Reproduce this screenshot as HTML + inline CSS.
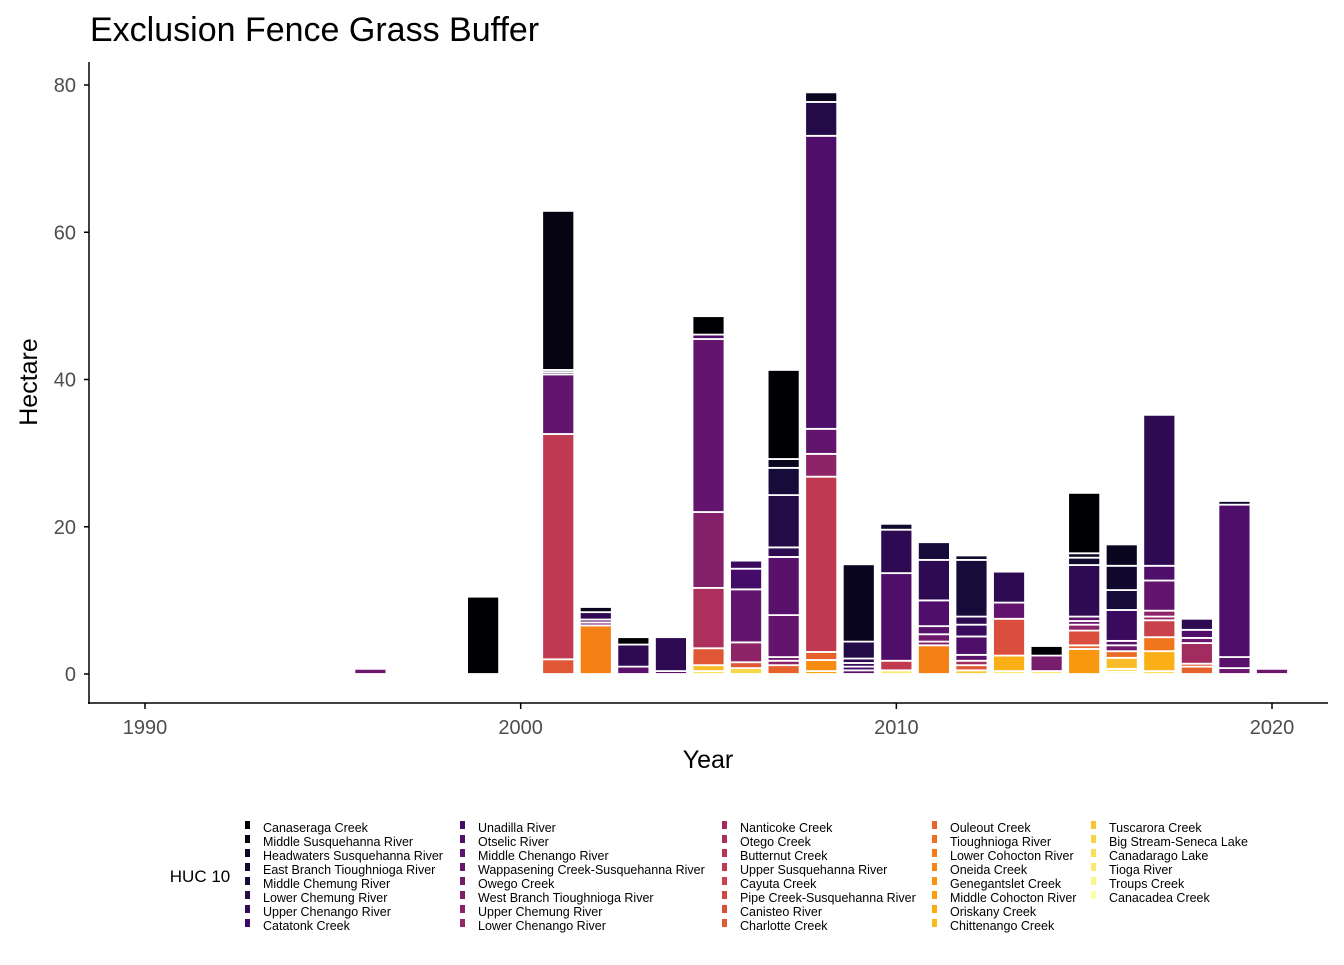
<!DOCTYPE html>
<html><head><meta charset="utf-8"><style>
body{margin:0;background:#fff;font-family:"Liberation Sans",sans-serif}
svg text{font-family:"Liberation Sans",sans-serif}
</style></head><body>
<svg id="chart" width="1344" height="960">
<text x="90" y="41" font-size="34" fill="#000">Exclusion Fence Grass Buffer</text>
<text transform="translate(37,382) rotate(-90)" text-anchor="middle" font-size="25" fill="#000">Hectare</text>
<text x="708" y="768" text-anchor="middle" font-size="25" fill="#000">Year</text>
<line x1="89" y1="62" x2="89" y2="704" stroke="#000" stroke-width="1.5"/>
<line x1="88" y1="703" x2="1328" y2="703" stroke="#000" stroke-width="1.5"/>
<g id="ticks"></g><g id="bars"></g><g id="legend"></g>
<text x="200" y="882" text-anchor="middle" font-size="17" fill="#000">HUC 10</text>
</svg>
<script>
const categories=["Canaseraga Creek","Middle Susquehanna River","Headwaters Susquehanna River","East Branch Tioughnioga River","Middle Chemung River","Lower Chemung River","Upper Chenango River","Catatonk Creek","Unadilla River","Otselic River","Middle Chenango River","Wappasening Creek-Susquehanna River","Owego Creek","West Branch Tioughnioga River","Upper Chemung River","Lower Chenango River","Nanticoke Creek","Otego Creek","Butternut Creek","Upper Susquehanna River","Cayuta Creek","Pipe Creek-Susquehanna River","Canisteo River","Charlotte Creek","Ouleout Creek","Tioughnioga River","Lower Cohocton River","Oneida Creek","Genegantslet Creek","Middle Cohocton River","Oriskany Creek","Chittenango Creek","Tuscarora Creek","Big Stream-Seneca Lake","Canadarago Lake","Tioga River","Troups Creek","Canacadea Creek"];
const years=[1996,1999,2001,2002,2003,2004,2005,2006,2007,2008,2009,2010,2011,2012,2013,2014,2015,2016,2017,2018,2019,2020];
const stacks=[
[[12,0.7]],
[[0,10.5]],
[[24,2.0],[20,30.6],[11,8.1],[5,0.3],[3,0.3],[1,21.6]],
[[28,6.6],[13,0.4],[10,0.4],[6,1.0],[2,0.7]],
[[10,1.0],[6,3.0],[0,1.0]],
[[10,0.4],[6,4.6]],
[[36,0.4],[33,0.8],[24,2.3],[18,8.2],[14,10.3],[11,23.5],[9,0.6],[0,2.5]],
[[35,0.8],[24,0.8],[15,2.7],[11,7.2],[8,2.8],[7,1.1]],
[[25,1.2],[15,0.6],[12,0.5],[11,5.7],[10,7.9],[6,1.3],[5,7.1],[4,3.7],[2,1.2],[0,12.1]],
[[31,0.4],[29,1.5],[25,1.1],[20,23.8],[15,3.1],[11,3.4],[9,39.8],[5,4.6],[2,1.3]],
[[10,0.5],[8,0.5],[7,0.5],[6,0.6],[5,2.3],[2,10.5]],
[[37,0.5],[20,1.3],[9,11.9],[6,5.9],[3,0.8]],
[[28,3.9],[14,0.5],[12,1.0],[10,1.1],[9,3.5],[6,5.5],[4,2.4]],
[[34,0.5],[24,0.7],[17,0.6],[10,0.8],[9,2.5],[7,1.6],[6,1.1],[4,7.7],[3,0.6]],
[[37,0.4],[32,2.1],[23,5.0],[11,2.2],[6,4.2]],
[[37,0.4],[13,2.1],[0,1.3]],
[[30,3.4],[25,0.5],[23,2.0],[15,0.8],[12,0.5],[10,0.6],[6,7.0],[3,1.0],[2,0.6],[0,8.2]],
[[37,0.3],[36,0.4],[33,1.5],[26,0.9],[12,0.8],[10,0.6],[7,4.2],[4,2.7],[3,3.3],[2,2.9]],
[[36,0.4],[32,2.7],[27,1.9],[21,2.3],[16,0.5],[15,0.8],[11,4.1],[9,2.0],[6,20.5]],
[[25,1.0],[24,0.4],[17,2.8],[12,0.7],[9,1.1],[6,1.5]],
[[12,0.8],[10,1.5],[9,20.7],[3,0.5]],
[[12,0.7]]
];
const yTicks=[0,20,40,60,80];
const xTicks=[1990,2000,2010,2020];
const NS="http://www.w3.org/2000/svg";
const yS=v=>674-v*(589/80);
const xS=y=>145+(y-1990)*(1127/30);
const anchors=[[0,0,4],[22,11,57],[66,10,104],[106,23,110],[147,38,103],[188,55,84],[221,81,58],[243,120,25],[252,165,10],[246,215,70],[252,255,164]];
function inferno(t){t=Math.min(1,t);const p=t*10,i=Math.min(9,Math.floor(p)),f=p-i,a=anchors[i],b=anchors[i+1];
return `rgb(${a.map((c,k)=>Math.round(c+(b[k]-c)*f)).join(',')})`;}
const barCol=i=>inferno(i/39);
const keyCol=i=>inferno(i/(categories.length-1));
function mk(tag,attrs,parent){const e=document.createElementNS(NS,tag);for(const k in attrs)e.setAttribute(k,attrs[k]);parent.appendChild(e);return e;}
const tg=document.getElementById('ticks');
yTicks.forEach(v=>{
 const l=mk('line',{x1:84,x2:89,y1:yS(v),y2:yS(v),stroke:'#000','stroke-width':1.5},tg);
 
 
 const t=mk('text',{x:76,y:yS(v)+7,'text-anchor':'end','font-size':20,fill:'#4d4d4d'},tg);t.textContent=v;
 
 
});
xTicks.forEach(v=>{
 const l=mk('line',{x1:xS(v),x2:xS(v),y1:703,y2:709,stroke:'#000','stroke-width':1.5},tg);
 
 
 const t=mk('text',{x:xS(v),y:734,'text-anchor':'middle','font-size':20,fill:'#4d4d4d'},tg);t.textContent=v;
 
 
});
const bg=document.getElementById('bars');
years.forEach((yr,i)=>{let base=0;stacks[i].forEach(([c,v])=>{
 const r=mk('rect',{x:xS(yr)-16,width:32,y:yS(base+v),height:Math.max(0.5,yS(base)-yS(base+v)),fill:barCol(c),stroke:'#fff','stroke-width':1.8},bg);
 
 
 base+=v;});});
const lg=document.getElementById('legend');
const colX=[245,460,722,932,1091];
categories.forEach((n,i)=>{const c=Math.floor(i/8),r=i%8,y=827+r*14;
 const k=mk('rect',{x:colX[c],y:y-6,width:5,height:8,fill:keyCol(i)},lg);
 
 
 const t=mk('text',{x:colX[c]+18,y:y+5,'font-size':12.5,fill:'#000'},lg);t.textContent=n;
 
 
});
</script>
</body></html>
